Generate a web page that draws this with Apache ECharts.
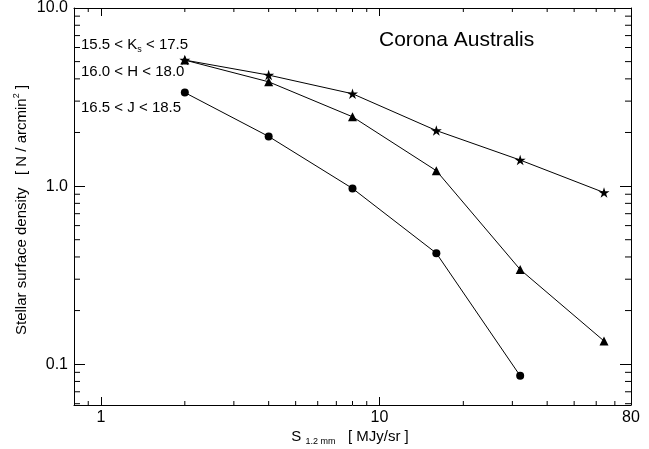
<!DOCTYPE html>
<html>
<head>
<meta charset="utf-8">
<script src="https://cdn.jsdelivr.net/npm/echarts@6/dist/echarts.min.js"></script>
<style>
  html, body { margin: 0; padding: 0; background: #fff; }
  #chart { width: 649px; height: 449px; }
</style>
</head>
<body>
<div id="chart"></div>
<script>
// Stellar surface density versus 1.2 mm dust emission, Corona Australis
const fluxValues = [2, 4, 8, 16, 32, 64];           // S_1.2mm [MJy/sr]
const densityK = [5.1, 4.2, 3.3, 2.05, 1.4, 0.92];   // 15.5 < Ks < 17.5
const densityH = [5.1, 3.85, 2.45, 1.22, 0.34, 0.135]; // 16.0 < H < 18.0
const densityJ = [3.35, 1.9, 0.97, 0.42, 0.086];     // 16.5 < J < 18.5

const xTickLabels = ['1', '10', '80'];
const yTickLabels = ['0.1', '1.0', '10.0'];

const xRange = [0.8, 80];
const yRange = [0.059, 10];

// minor tick positions (2..9 within each decade)
function minorTicks(lo, hi) {
  const out = [];
  for (let e = -3; e <= 3; e++) {
    for (let m = 2; m <= 9; m++) {
      const v = m * Math.pow(10, e);
      if (v > lo * 1.0001 && v < hi * 0.9999) out.push(v);
    }
  }
  return out;
}
const xMinor = minorTicks(xRange[0], xRange[1]);
const yMinor = minorTicks(yRange[0], yRange[1]);

const FONT = '"Liberation Sans", Arial, Helvetica, sans-serif';
const starPath = 'path://M0 -100 L22 -31 L95 -31 L36 12 L59 81 L0 38 L-59 81 L-36 12 L-95 -31 L-22 -31 Z';

function pairs(ys) { return ys.map((y, i) => [fluxValues[i], y]); }

function matchLabel(list, v) {
  for (const s of list) {
    if (Math.abs(parseFloat(s) - v) < 1e-6 * Math.max(1, v)) return s;
  }
  return '';
}

const chart = echarts.init(document.getElementById('chart'), null, { renderer: 'canvas' });

const axisLine = { show: true, onZero: false, lineStyle: { color: '#000', width: 1 } };

const lineSeries = (name, ys, symbol, size, z) => ({
  name, type: 'line', data: pairs(ys), xAxisIndex: 0, yAxisIndex: 0,
  symbol, symbolSize: size, symbolKeepAspect: true, showSymbol: true,
  lineStyle: { color: '#000', width: 1 },
  itemStyle: { color: '#000', borderWidth: 0 },
  emphasis: { disabled: true }, animation: false, z
});

const option = {
  animation: false,
  backgroundColor: '#fff',
  grid: { left: 74, right: 18, top: 7, bottom: 44, containLabel: false },
  xAxis: [
    {
      type: 'log', logBase: 10, min: xRange[0], max: xRange[1], position: 'bottom',
      axisLine, splitLine: { show: false },
      axisTick: { show: true, inside: true, length: 8, lineStyle: { color: '#000' } },
      axisLabel: {
        show: true, margin: 5, color: '#000', fontFamily: FONT, fontSize: 16,
        showMinLabel: false, showMaxLabel: true,
        formatter: v => matchLabel(xTickLabels, v)
      }
    },
    {
      type: 'log', logBase: 10, min: xRange[0], max: xRange[1], position: 'top',
      axisLine, splitLine: { show: false },
      axisTick: { show: true, inside: true, length: 8, lineStyle: { color: '#000' } },
      axisLabel: { show: false }
    }
  ],
  yAxis: [
    {
      type: 'log', logBase: 10, min: yRange[0], max: yRange[1], position: 'left',
      axisLine, splitLine: { show: false },
      axisTick: { show: true, inside: true, length: 11, lineStyle: { color: '#000' } },
      axisLabel: {
        show: true, margin: 6, color: '#000', fontFamily: FONT, fontSize: 16,
        showMinLabel: false, showMaxLabel: true,
        formatter: v => matchLabel(yTickLabels, v)
      }
    },
    {
      type: 'log', logBase: 10, min: yRange[0], max: yRange[1], position: 'right',
      axisLine, splitLine: { show: false },
      axisTick: { show: true, inside: true, length: 11, lineStyle: { color: '#000' } },
      axisLabel: { show: false }
    }
  ],
  series: [
    lineSeries('15.5 < Ks < 17.5', densityK, starPath, 11, 5),
    lineSeries('16.0 < H < 18.0', densityH, 'triangle', 9, 4),
    lineSeries('16.5 < J < 18.5', densityJ, 'circle', 8, 3),
    {
      // minor ticks along bottom and top
      type: 'custom', xAxisIndex: 0, yAxisIndex: 0, silent: true, clip: false,
      data: xMinor.map(v => [v, 1]),
      renderItem: (params, api) => {
        const cs = params.coordSys;
        const x = api.coord([api.value(0), 1])[0];
        const s = { stroke: '#000', lineWidth: 1 };
        return { type: 'group', children: [
          { type: 'line', shape: { x1: x, y1: cs.y + cs.height, x2: x, y2: cs.y + cs.height - 4 }, style: s },
          { type: 'line', shape: { x1: x, y1: cs.y, x2: x, y2: cs.y + 4 }, style: s }
        ] };
      }
    },
    {
      // minor ticks along left and right
      type: 'custom', xAxisIndex: 0, yAxisIndex: 0, silent: true, clip: false,
      data: yMinor.map(v => [1, v]),
      renderItem: (params, api) => {
        const cs = params.coordSys;
        const y = api.coord([1, api.value(1)])[1];
        const s = { stroke: '#000', lineWidth: 1 };
        return { type: 'group', children: [
          { type: 'line', shape: { x1: cs.x, y1: y, x2: cs.x + 6, y2: y }, style: s },
          { type: 'line', shape: { x1: cs.x + cs.width, y1: y, x2: cs.x + cs.width - 6, y2: y }, style: s }
        ] };
      }
    }
  ],
  graphic: [
    {
      type: 'text', x: 379, y: 40,
      style: { text: 'Corona Australis', font: '21px ' + FONT, fill: '#000', verticalAlign: 'middle' }
    },
    {
      type: 'text', x: 81, y: 45,
      style: {
        text: '15.5 < K{sub|s} < 17.5', font: '15px ' + FONT, fill: '#000', verticalAlign: 'middle',
        rich: { sub: { fontSize: 9, fontFamily: FONT, verticalAlign: 'bottom', lineHeight: 19 } }
      }
    },
    {
      type: 'text', x: 81, y: 72,
      style: { text: '16.0 < H < 18.0', font: '15px ' + FONT, fill: '#000', verticalAlign: 'middle' }
    },
    {
      type: 'text', x: 81, y: 108,
      style: { text: '16.5 < J < 18.5', font: '15px ' + FONT, fill: '#000', verticalAlign: 'middle' }
    },
    {
      type: 'text', x: 350, y: 437,
      style: {
        text: 'S {sub|1.2 mm}   [ MJy/sr ]', font: '15px ' + FONT, fill: '#000',
        align: 'center', verticalAlign: 'middle',
        rich: { sub: { fontSize: 9, fontFamily: FONT, verticalAlign: 'bottom', lineHeight: 19 } }
      }
    },
    {
      type: 'text', x: 22, y: 210, rotation: Math.PI / 2,
      style: {
        text: 'Stellar surface density   [ N / arcmin{sup|2} ]', font: '15px ' + FONT, fill: '#000',
        align: 'center', verticalAlign: 'middle',
        rich: { sup: { fontSize: 9, fontFamily: FONT, verticalAlign: 'top', lineHeight: 19 } }
      }
    }
  ]
};

chart.setOption(option);
</script>
</body>
</html>
